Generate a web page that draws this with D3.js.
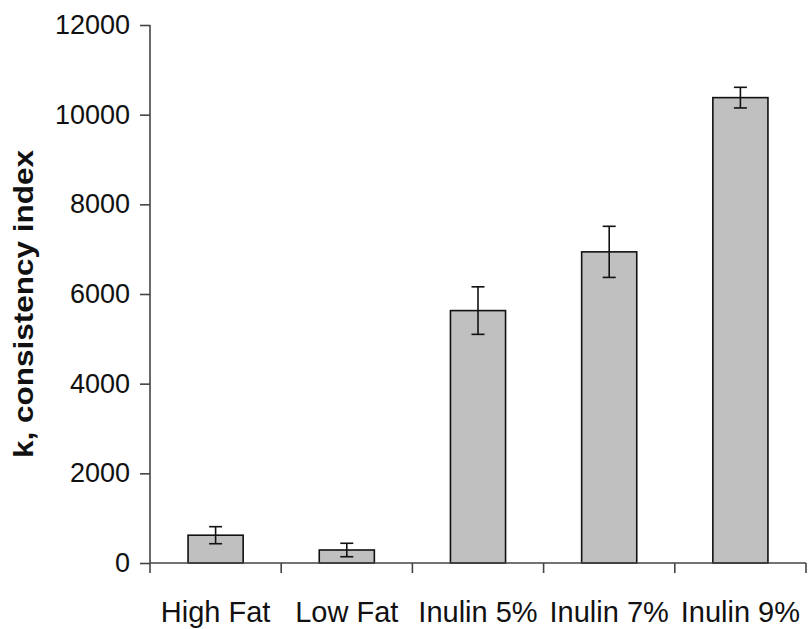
<!DOCTYPE html>
<html>
<head>
<meta charset="utf-8">
<script src="https://cdn.jsdelivr.net/npm/d3@7"></script>
<style>
  body { margin: 0; background: #fff; }
  text { font-family: "Liberation Sans", Arial, sans-serif; fill: #111; }
</style>
</head>
<body>
<div id="chart"></div>
<script>
const categories = ["High Fat", "Low Fat", "Inulin 5%", "Inulin 7%", "Inulin 9%"];
const values = [620, 290, 5630, 6940, 10380];
const errors = [190, 150, 530, 570, 230];
const yTicks = [0, 2000, 4000, 6000, 8000, 10000, 12000];

const width = 809, height = 629;
const margin = { top: 25, right: 3, bottom: 66, left: 150 };

const svg = d3
  .select("#chart")
  .append("svg")
  .attr("width", width)
  .attr("height", height);

const g = svg.append("g").attr("transform", `translate(${margin.left},${margin.top})`);
const w = width - margin.left - margin.right,
  h = height - margin.top - margin.bottom;

const x = d3.scaleBand().domain(categories).range([0, w]).padding(0);
const y = d3.scaleLinear().domain([0, 12000]).range([h, 0]);
const barW = x.bandwidth() * 0.42;

// Bars
g.selectAll(".bar")
  .data(categories)
  .enter()
  .append("rect")
  .attr("class", "bar")
  .attr("x", (d) => x(d) + (x.bandwidth() - barW) / 2)
  .attr("y", (d, i) => y(values[i]))
  .attr("width", barW)
  .attr("height", (d, i) => y(0) - y(values[i]))
  .attr("fill", "#c0c0c0")
  .attr("stroke", "#111")
  .attr("stroke-width", 1.6);

// Error bars
const capW = 13;
const err = g.selectAll(".err").data(categories).enter().append("g").attr("class", "err")
  .attr("stroke", "#111").attr("stroke-width", 1.6);
err.append("line")
  .attr("x1", (d) => x(d) + x.bandwidth() / 2)
  .attr("x2", (d) => x(d) + x.bandwidth() / 2)
  .attr("y1", (d, i) => y(values[i] + errors[i]))
  .attr("y2", (d, i) => y(values[i] - errors[i]));
[1, -1].forEach((s) => {
  err.append("line")
    .attr("x1", (d) => x(d) + x.bandwidth() / 2 - capW / 2)
    .attr("x2", (d) => x(d) + x.bandwidth() / 2 + capW / 2)
    .attr("y1", (d, i) => y(values[i] + s * errors[i]))
    .attr("y2", (d, i) => y(values[i] + s * errors[i]));
});

// Y axis
const yAxis = g.append("g").call(
  d3.axisLeft(y).tickValues(yTicks).tickSize(10).tickSizeOuter(0).tickPadding(10).tickFormat(d3.format("d"))
);
yAxis.select(".domain").attr("stroke", "#444").attr("stroke-width", 1.6)
  .attr("d", `M0,0V${h + 10}`);
yAxis.selectAll(".tick line").attr("stroke", "#444").attr("stroke-width", 1.6);
yAxis.selectAll(".tick text").style("font-size", "27px").attr("fill", "#111");

// X axis: ticks at category boundaries
const bounds = categories.map((c) => x(c) + x.bandwidth());
const xAxis = g.append("g").attr("transform", `translate(0,${h})`);
xAxis.append("line").attr("x1", 0).attr("x2", w).attr("stroke", "#444").attr("stroke-width", 1.6);
xAxis.selectAll(".xt").data(bounds).enter().append("line")
  .attr("x1", (d) => d).attr("x2", (d) => d)
  .attr("y1", 0).attr("y2", 10)
  .attr("stroke", "#444").attr("stroke-width", 1.6);
xAxis.selectAll(".xl").data(categories).enter().append("text")
  .attr("x", (d) => x(d) + x.bandwidth() / 2)
  .attr("y", 59)
  .attr("text-anchor", "middle")
  .style("font-size", "29px")
  .text((d) => d);

// Y label
svg.append("text")
  .attr("transform", `translate(33,${margin.top + h / 2 + 10}) rotate(-90)`)
  .attr("text-anchor", "middle")
  .attr("textLength", 308)
  .attr("lengthAdjust", "spacingAndGlyphs")
  .style("font-size", "27px")
  .style("font-weight", "bold")
  .text("k, consistency index");
</script>
</body>
</html>
